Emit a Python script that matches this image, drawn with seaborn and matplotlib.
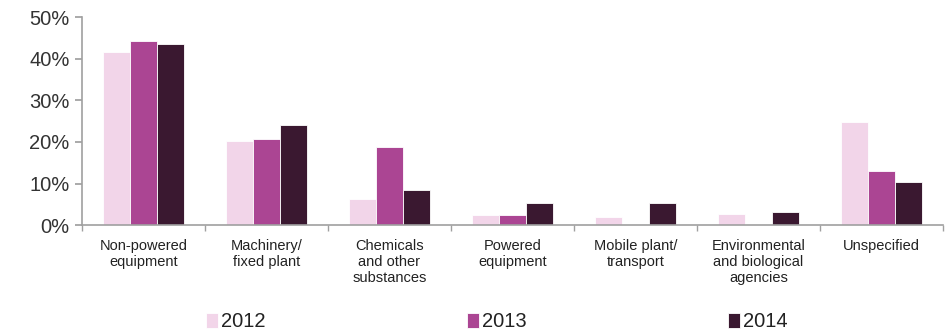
import matplotlib
matplotlib.use("Agg")
import matplotlib.pyplot as plt
import seaborn as sns
import pandas as pd
import numpy as np
from matplotlib.ticker import PercentFormatter, FixedLocator

categories = ["Non-powered\nequipment", "Machinery/\nfixed plant", "Chemicals\nand other\nsubstances",
              "Powered\nequipment", "Mobile plant/\ntransport", "Environmental\nand biological\nagencies",
              "Unspecified"]
years = ["2012", "2013", "2014"]
v2012 = [41.6, 20.2, 6.3, 2.4, 2.0, 2.6, 24.7]
v2013 = [44.3, 20.8, 18.7, 2.4, 0.0, 0.0, 12.9]
v2014 = [43.5, 24.1, 8.5, 5.3, 5.3, 3.2, 10.3]
colors = ["#f2d5e9", "#ab4593", "#3a1830"]

rows = []
for yr, vals in zip(years, [v2012, v2013, v2014]):
    for c, v in zip(categories, vals):
        rows.append({"Category": c, "Year": yr, "Value": v / 100})
df = pd.DataFrame(rows)

sns.set_theme(style="white")
plt.rcParams["font.family"] = ["Liberation Sans Narrow", "Liberation Sans", "DejaVu Sans"]

fig = plt.figure(figsize=(9.48, 3.33), dpi=100)
ax = fig.add_axes([0.0865, 0.324, 0.908, 0.624])
sns.barplot(data=df, x="Category", y="Value", hue="Year", palette=colors,
            width=0.66, gap=0, ax=ax, edgecolor="white", linewidth=0.6, saturation=1)

ax.set_ylim(0, 0.5)
ax.set_xlim(-0.5, len(categories) - 0.5)
ax.yaxis.set_major_formatter(PercentFormatter(1.0, decimals=0))
ax.set_yticks(np.arange(0, 0.51, 0.1))
ax.set_xlabel("")
ax.set_ylabel("")
for s in ["top", "right"]:
    ax.spines[s].set_visible(False)
for s in ["left", "bottom"]:
    ax.spines[s].set_color("#a0a0a0")
    ax.spines[s].set_linewidth(1.2)
ax.tick_params(axis="y", which="major", left=True, length=5, color="#a0a0a0",
               labelsize=14.5, labelcolor="#333333", pad=4)
ax.tick_params(axis="x", which="major", bottom=False, labelsize=10.5, labelcolor="#222222", pad=4)
ax.xaxis.set_minor_locator(FixedLocator(np.arange(-0.5, len(categories), 1.0)))
ax.tick_params(axis="x", which="minor", bottom=True, length=4, color="#a0a0a0")

leg = ax.legend(loc="lower center", bbox_to_anchor=(0.482, -0.55), ncol=3, frameon=False,
                fontsize=14.5, handlelength=0.6, handleheight=0.8, handletextpad=0.15,
                columnspacing=10.0, borderaxespad=0)
for t in leg.get_texts():
    t.set_color("#222222")

fig.savefig("out.png", dpi=100)
